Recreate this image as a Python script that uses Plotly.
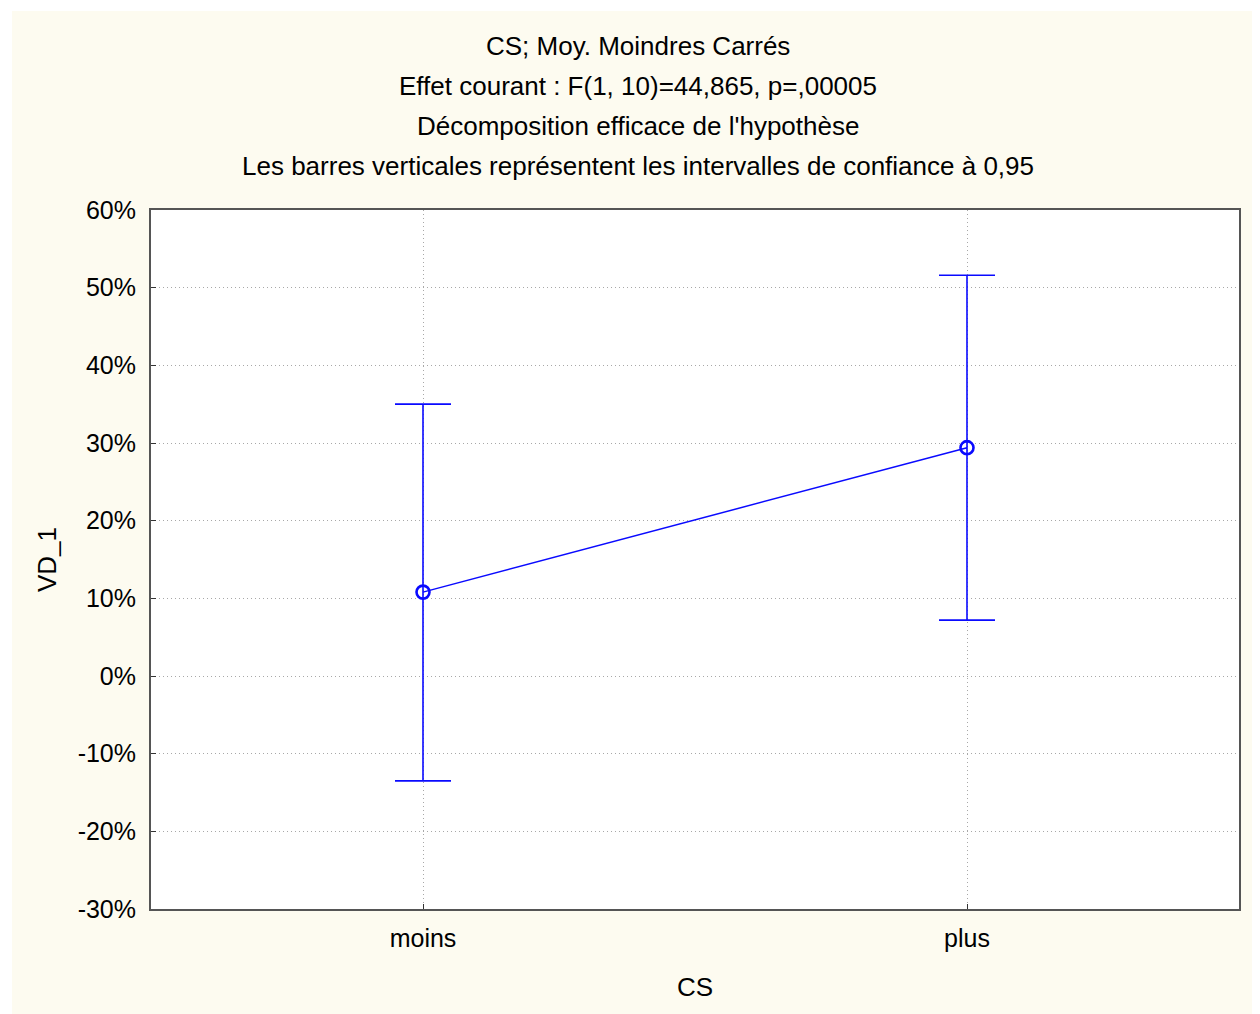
import plotly.graph_objects as go

categories = ['moins', 'plus']
means = [10.8, 29.4]
upper = [35.0, 51.6]
lower = [-13.5, 7.2]

title_lines = [
    "CS; Moy. Moindres Carrés",
    "Effet courant : F(1, 10)=44,865, p=,00005",
    "Décomposition efficace de l'hypothèse",
    "Les barres verticales représentent les intervalles de confiance à 0,95",
]
y_ticks = [-30, -20, -10, 0, 10, 20, 30, 40, 50, 60]

# page body has an 8px margin, so the figure starts at (8, 8)
OFF = 8
W, H = 1260 - OFF, 1014 - OFF
ML, MR, MT, MB = 151 - OFF, 21, 210 - OFF, 105
PW, PH = W - ML - MR, H - MT - MB
FONT = "Liberation Sans, Arial, sans-serif"
BLUE = "#0a0aff"
GRID = dict(showgrid=True, gridcolor='#a8a8a8', griddash='1px,3px', gridwidth=1)

fig = go.Figure()
fig.add_trace(go.Scatter(
    x=[0, 1], y=means, mode='lines+markers',
    line=dict(color=BLUE, width=1.5),
    marker=dict(symbol='circle-open', size=13, color=BLUE, line=dict(width=2.6)),
    error_y=dict(type='data', symmetric=False,
                 array=[u - m for u, m in zip(upper, means)],
                 arrayminus=[m - l for m, l in zip(means, lower)],
                 color=BLUE, thickness=1.6, width=28),
    showlegend=False, cliponaxis=False,
))

# title lines as separate annotations (centres at y = 46, 86, 126, 166 on the page)
for i, t in enumerate(title_lines):
    fig.add_annotation(text=t, xref='paper', yref='paper',
                       x=(638 - OFF - ML) / PW, y=(H - MB - (46 - OFF + 40 * i)) / PH,
                       showarrow=False, xanchor='center', yanchor='middle',
                       font=dict(family=FONT, size=26, color='black'))

# white frame on left/top edges
fig.add_shape(type='rect', xref='paper', yref='paper', layer='below',
              x0=-ML / PW, x1=(W - ML) / PW, y0=(H - MB - 3) / PH, y1=(H - MB) / PH,
              fillcolor='white', line=dict(width=0))
fig.add_shape(type='rect', xref='paper', yref='paper', layer='below',
              x0=-ML / PW, x1=(4 - ML) / PW, y0=-MB / PH, y1=(H - MB) / PH,
              fillcolor='white', line=dict(width=0))

fig.update_layout(
    width=W, height=H,
    margin=dict(l=ML, r=MR, t=MT, b=MB),
    paper_bgcolor='#fdfbf0',
    plot_bgcolor='white',
    font=dict(family=FONT, size=25, color='black'),
    xaxis=dict(
        range=[-0.5, 1.5], tickvals=[0, 1], ticktext=categories, **GRID,
        ticks='inside', ticklen=5, tickcolor='#333',
        showline=True, linecolor='#555', linewidth=2, mirror=True,
        zeroline=False, ticklabelstandoff=6,
        title=dict(text='CS', standoff=27, font=dict(size=26)),
    ),
    yaxis=dict(
        range=[-30, 60], tickvals=y_ticks, ticktext=[f"{v}%" for v in y_ticks], **GRID,
        ticks='inside', ticklen=5, tickcolor='#333',
        showline=True, linecolor='#555', linewidth=2, mirror=True,
        zeroline=False, ticklabelstandoff=8,
        title=dict(text='VD_1', standoff=14, font=dict(size=26)),
    ),
)

fig.write_html("out.html")
